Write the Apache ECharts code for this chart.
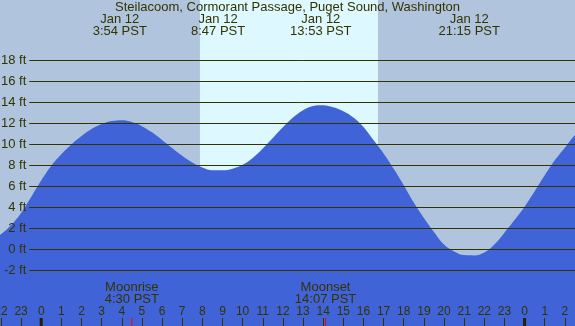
<!DOCTYPE html>
<html><head><meta charset="utf-8">
<script src="https://cdn.jsdelivr.net/npm/echarts/dist/echarts.min.js"></script>
<style>html,body{margin:0;padding:0;background:#B0C4DE}#c{width:575px;height:326px}</style>
</head><body><div id="c"></div>
<script>
// ---- data ----
const stationTitle = 'Steilacoom, Cormorant Passage, Puget Sound, Washington';
// half-hourly readings, hours relative to midnight Jan 12 (PST)
const tideHours = [-3, -2.5, -2, -1.5, -1, -0.5, 0, 0.5, 1, 1.5, 2, 2.5, 3, 3.5, 4, 4.5, 5, 5.5, 6, 6.5, 7, 7.5, 8, 8.5, 9, 9.5,
                   10, 10.5, 11, 11.5, 12, 12.5, 13, 13.5, 14, 14.5, 15, 15.5, 16, 16.5, 17, 17.5, 18, 18.5, 19, 19.5,
                   20, 20.5, 21, 21.5, 22, 22.5, 23, 23.5, 24, 24.5, 25, 25.5, 26, 26.5, 27];
const tideFeet  = [0.45, 0.82, 1.43, 2.28, 3.45, 4.98, 6.55, 7.95, 9.05, 9.98, 10.78, 11.45, 11.93, 12.22, 12.3, 12.13, 11.73, 11.14, 10.42, 9.65, 8.9, 8.26, 7.79, 7.53, 7.52, 7.68,
                   8.05, 8.7, 9.6, 10.6, 11.62, 12.55, 13.25, 13.65, 13.73, 13.52, 13.15, 12.55, 11.65, 10.4, 9.12, 7.66, 6.1, 4.45, 2.98, 1.65,
                   0.45, -0.2, -0.55, -0.58, -0.3, 0.45, 1.58, 2.78, 4.05, 5.52, 7.05, 8.48, 9.68, 10.89, 11.85];
const extremeHours = [3.9, 8.783, 13.883, 21.25];
const extremeDates = ['Jan 12', 'Jan 12', 'Jan 12', 'Jan 12'];
const extremeTimes = ['3:54 PST', '8:47 PST', '13:53 PST', '21:15 PST'];
const moonHours = [4.5, 14.117];
const moonEvents = ['Moonrise', 'Moonset'];
const moonTimes = ['4:30 PST', '14:07 PST'];
const midnightHours = [0, 24];
const daylight = [7.88, 16.72];   // sunrise, sunset
const heightTicks = { min: -2, max: 18, step: 2, unit: ' ft' };
const hourRange = { min: -3, max: 27, step: 1 };

// ---- style ----
const FONT = '"Liberation Sans", Arial, sans-serif';
const TXT = '#333300';
const SKY = '#B0C4DE', DAY = '#DDF8FF', WATER = '#4163D8';

const chart = echarts.init(document.getElementById('c'), null, { renderer: 'canvas' });
const tide = tideHours.map((h, i) => [h, tideFeet[i]]);

chart.setOption({
  animation: false,
  backgroundColor: SKY,
  textStyle: { fontFamily: FONT, color: TXT },
  grid: [
    { left: -19.2, right: -10, top: 0, bottom: 0, outerBoundsMode: 'none', containLabel: false },
    { left: 29.3, right: 0, top: 60.3, bottom: 55.7, outerBoundsMode: 'none', containLabel: false }
  ],
  xAxis: [
    {
      type: 'value', gridIndex: 0, min: hourRange.min, max: hourRange.max, interval: hourRange.step,
      position: 'bottom',
      axisLine: { show: false, onZero: false }, splitLine: { show: false },
      axisTick: { show: true, inside: true, length: 8, lineStyle: { color: TXT, width: 1 } },
      axisLabel: {
        inside: true, margin: 8, color: TXT, fontFamily: FONT, fontSize: 12,
        formatter: v => String(((v % 24) + 24) % 24),
        showMinLabel: true, showMaxLabel: true, hideOverlap: false
      },
      z: 4
    },
    { type: 'value', gridIndex: 1, min: 0, max: 1, show: false }
  ],
  yAxis: [
    { type: 'value', gridIndex: 0, min: -7.305, max: 23.743, show: false, splitLine: { show: false } },
    {
      type: 'value', gridIndex: 1, min: heightTicks.min, max: heightTicks.max, interval: heightTicks.step,
      axisLine: { show: false }, axisTick: { show: false },
      axisLabel: { margin: 3, color: TXT, fontFamily: FONT, fontSize: 13, formatter: v => v + heightTicks.unit },
      splitLine: { show: true, lineStyle: { color: TXT, width: 1 } },
      z: 3
    }
  ],
  series: [
    {
      type: 'custom', xAxisIndex: 0, yAxisIndex: 0, z: 1, silent: true,
      data: [daylight],
      renderItem: (params, api) => {
        const s = api.coord([api.value(0), 0]);
        const e = api.coord([api.value(1), 0]);
        return { type: 'rect', shape: { x: s[0], y: 0, width: e[0] - s[0], height: 326 }, style: { fill: DAY } };
      }
    },
    {
      type: 'line', xAxisIndex: 0, yAxisIndex: 0, z: 2, silent: true,
      data: tide, smooth: 0.4, symbol: 'none',
      lineStyle: { width: 0, color: WATER },
      areaStyle: { color: WATER, opacity: 1, origin: 'start' }
    },
    {
      type: 'custom', xAxisIndex: 0, yAxisIndex: 0, z: 5, silent: true,
      data: midnightHours.map(h => [h, 0]),
      renderItem: (params, api) => {
        const p = api.coord([api.value(0), 0]);
        return { type: 'rect', shape: { x: p[0] - 1.5, y: 318, width: 3, height: 8 }, style: { fill: '#222200' } };
      }
    },
    {
      type: 'custom', xAxisIndex: 0, yAxisIndex: 0, z: 5, silent: true,
      data: extremeHours.map((h, i) => [h, i]),
      renderItem: (params, api) => {
        const i = params.dataIndex;
        const p = api.coord([api.value(0), 0]);
        return {
          type: 'text', x: p[0], y: 25.4,
          style: { text: extremeDates[i] + '\n' + extremeTimes[i], fill: TXT, font: '13px ' + FONT,
                   align: 'center', verticalAlign: 'middle', lineHeight: 12 }
        };
      }
    },
    {
      type: 'custom', xAxisIndex: 0, yAxisIndex: 0, z: 5, silent: true,
      data: moonHours.map((h, i) => [h, i]),
      renderItem: (params, api) => {
        const i = params.dataIndex;
        const p = api.coord([api.value(0), 0]);
        return {
          type: 'group', children: [
            { type: 'text', x: p[0], y: 293.3,
              style: { text: moonEvents[i] + '\n' + moonTimes[i], fill: TXT, font: '13px ' + FONT,
                       align: 'center', verticalAlign: 'middle', lineHeight: 12 } },
            { type: 'rect', shape: { x: p[0] - 0.5, y: 318, width: 1, height: 8 }, style: { fill: '#FF0000' } }
          ]
        };
      }
    }
  ],
  graphic: [
    { type: 'text', x: 287.5, y: 7.3, z: 10,
      style: { text: stationTitle, fill: TXT, font: '13px ' + FONT, align: 'center', verticalAlign: 'middle' } }
  ]
});
</script></body></html>
